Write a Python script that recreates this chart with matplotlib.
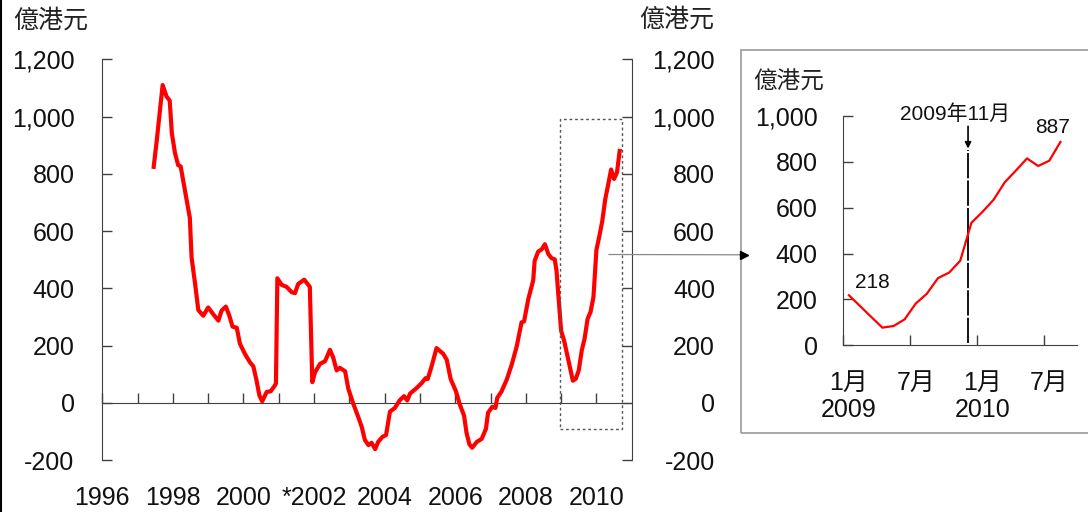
import numpy as np
import matplotlib
matplotlib.use("Agg")
import matplotlib.pyplot as plt
from matplotlib.patches import Rectangle
from matplotlib.lines import Line2D

plt.rcParams['font.family'] = ['Liberation Sans', 'Noto Sans CJK TC', 'DejaVu Sans']

# ---------------- data ----------------
# main series (decimal year, HK$ 100 million), up to end-2008
main_years = [1997.45, 1997.54, 1997.71, 1997.82, 1997.91, 1997.97, 1998.06, 1998.15, 1998.22,
              1998.48, 1998.53, 1998.63, 1998.72, 1998.86, 1999.00, 1999.14, 1999.29, 1999.38,
              1999.50, 1999.60, 1999.69, 1999.81, 1999.90, 2000.04, 2000.18, 2000.28, 2000.37,
              2000.45, 2000.53, 2000.66, 2000.77, 2000.86, 2000.92, 2000.96, 2001.08, 2001.22,
              2001.37, 2001.46, 2001.55, 2001.72, 2001.88, 2001.95, 2002.03, 2002.17, 2002.31,
              2002.45, 2002.54, 2002.64, 2002.73, 2002.88, 2002.97, 2003.11, 2003.25, 2003.35,
              2003.44, 2003.54, 2003.63, 2003.73, 2003.82, 2003.94, 2004.04, 2004.15, 2004.29,
              2004.43, 2004.55, 2004.64, 2004.72, 2004.91, 2005.05, 2005.16, 2005.22, 2005.33,
              2005.47, 2005.66, 2005.76, 2005.87, 2006.02, 2006.13, 2006.25, 2006.32, 2006.40,
              2006.48, 2006.61, 2006.75, 2006.87, 2006.93, 2007.05, 2007.14, 2007.19, 2007.31,
              2007.46, 2007.60, 2007.74, 2007.88, 2007.95, 2008.07, 2008.21, 2008.25, 2008.35,
              2008.45, 2008.54, 2008.64, 2008.73, 2008.82, 2008.87, 2008.92, 2009.00]
main_vals = [817, 913, 1110, 1070, 1056, 942, 872, 830, 826,
             646, 507, 415, 324, 304, 333, 310, 287, 322,
             336, 304, 266, 262, 206, 171, 142, 127, 78,
             26, 5, 38, 40, 55, 67, 435, 412, 405,
             386, 383, 415, 430, 405, 72, 107, 136, 145,
             185, 159, 113, 122, 110, 49, -3, -49, -84,
             -130, -148, -140, -162, -136, -119, -113, -31, -18,
             9, 23, 8, 32, 52, 69, 86, 83, 127,
             191, 171, 150, 83, 40, -6, -45, -105, -145,
             -157, -137, -126, -91, -35, -14, -18, 17, 39,
             81, 133, 196, 281, 284, 362, 428, 496, 528,
             536, 554, 519, 505, 501, 461, 380, 252]

# monthly values Jan 2009 - Aug 2010 (inset)
inset_vals = [218, 171, 124, 77, 84, 113, 182, 225, 293, 317, 369, 534,
              582, 635, 711, 762, 815, 782, 805, 887]
inset_ticklabels = ['1月\n2009', '7月', '1月\n2010', '7月']
inset_tickpos = [0, 6, 12, 18]

year_ticks = list(range(1996, 2011))
year_labels = ['1996', '', '1998', '', '2000', '', '*2002', '', '2004', '', '2006', '', '2008', '', '2010']
y_ticks = [-200, 0, 200, 400, 600, 800, 1000, 1200]
inset_y_ticks = [0, 200, 400, 600, 800, 1000]
unit = '億港元'
marker_label = '2009年11月'

# ---------------- figure ----------------
W, H = 1088, 512
fig = plt.figure(figsize=(W / 100, H / 100), dpi=100)
fig.patch.set_facecolor('white')

def fx(px):
    return px / W

def fy(py):
    return 1 - py / H

SP = '#404040'
TXT = '#111111'
FS = 18
FS_ANN = 15

# main axes
x0, x1, ytop, ybot = 102.3, 631.7, 59.3, 460.0
ax = fig.add_axes([fx(x0), fy(ybot), fx(x1 - x0), (ybot - ytop) / H])
ax.set_xlim(1996, 2011)
ax.set_ylim(-200, 1200)

inset_x = 2009 + (np.arange(len(inset_vals)) + 1) / 12.0
xs = np.concatenate([main_years, inset_x])
ys = np.concatenate([main_vals, inset_vals])
ax.plot(xs, ys, color='#ff0000', lw=3.0, solid_joinstyle='round', solid_capstyle='butt', zorder=3)

ax.spines['top'].set_visible(False)
ax.spines['bottom'].set_position(('data', 0))
ax.spines['bottom'].set_color(SP)
ax.spines['left'].set_color(SP)
ax.spines['right'].set_visible(False)
ax.set_xticks(year_ticks)
ax.set_xticklabels(year_labels)
ax.set_yticks(y_ticks)
ax.set_yticklabels([f'{v:,}' for v in y_ticks])
ax.tick_params(axis='x', direction='in', length=7, width=1, color=SP, pad=60, labelsize=FS, labelcolor=TXT)
ax.tick_params(axis='y', direction='in', length=7, width=1, color=SP, pad=20, labelsize=FS, labelcolor=TXT)

ax2 = ax.twinx()
ax2.set_ylim(-200, 1200)
ax2.set_yticks(y_ticks)
ax2.set_yticklabels([f'{v:,}' for v in y_ticks])
for s in ['top', 'bottom', 'left']:
    ax2.spines[s].set_visible(False)
ax2.spines['right'].set_color(SP)
ax2.tick_params(axis='y', direction='in', length=7, width=1, color=SP, pad=60, labelsize=FS, labelcolor=TXT)
for lab in ax2.get_yticklabels():
    lab.set_horizontalalignment('right')

# dotted zoom rectangle
ax.add_patch(Rectangle((2008.97, -90), 2010.73 - 2008.97, 990 + 90, fill=False,
                       edgecolor='#555555', lw=1.0, linestyle=(0, (2, 2)), zorder=4, clip_on=False))

# unit labels
fig.text(fx(13), fy(21), unit, ha='left', va='center', fontsize=18, color='#222222')
fig.text(fx(714), fy(20), unit, ha='right', va='center', fontsize=18, color='#222222')

# left border line of the image
fig.add_artist(Line2D([fx(1), fx(1)], [0, 1], color='black', lw=1.5))

# inset frame
fig.add_artist(Rectangle((fx(741), fy(433)), fx(1100 - 741), (433 - 50) / H, transform=fig.transFigure,
                         fill=False, edgecolor='#999999', lw=1.2))

# connector arrow
fig.add_artist(Line2D([fx(609), fx(744)], [fy(254.5), fy(254.8)], color='#888888', lw=0.9))
fig.add_artist(Line2D([fx(744)], [fy(254.8)], marker='>', markersize=6, color='black', lw=0))

# inset axes
ix0, ix1, iytop, iybot = 843.4, 1077.1, 116.0, 345.3
iax = fig.add_axes([fx(ix0), fy(iybot), fx(ix1 - ix0), (iybot - iytop) / H])
iax.set_xlim(-0.5, 20.5)
iax.set_ylim(0, 1000)
iax.patch.set_alpha(0)
iax.plot(np.arange(len(inset_vals)), inset_vals, color='#ff0000', lw=1.6, zorder=3)
for s in ['top', 'right']:
    iax.spines[s].set_visible(False)
iax.spines['left'].set_color(SP)
iax.spines['bottom'].set_color(SP)
iax.set_yticks(inset_y_ticks)
iax.set_yticklabels([f'{v:,}' for v in inset_y_ticks])
iax.set_xticks([p - 0.5 for p in inset_tickpos])
iax.set_xticklabels([])
iax.tick_params(axis='y', direction='in', length=7, width=1, color=SP, pad=18.5, labelsize=FS, labelcolor=TXT)
iax.tick_params(axis='x', direction='in', length=7, width=1, color=SP)
for p, lab in zip(inset_tickpos, inset_ticklabels):
    iax.text(p, -0.11, lab, transform=iax.get_xaxis_transform(), ha='center', va='top',
             fontsize=FS, color=TXT, linespacing=1.2)

# 2009 Nov marker
iax.plot([10.7, 10.7], [10, 852], color='black', lw=1.3, linestyle=(0, (14, 1.2)), zorder=2)
iax.annotate('', xy=(10.7, 858), xytext=(10.7, 955),
             arrowprops=dict(arrowstyle='-|>', color='black', lw=1.2, mutation_scale=9,
                             shrinkA=0, shrinkB=0), annotation_clip=False)
iax.text(9.55, 1010, marker_label, ha='center', va='center', fontsize=FS_ANN, color=TXT)
iax.text(2.13, 272, f'{inset_vals[0]}', ha='center', va='center', fontsize=FS_ANN, color=TXT)
iax.text(18.3, 948, f'{inset_vals[-1]}', ha='center', va='center', fontsize=FS_ANN, color=TXT)
fig.text(fx(753), fy(83), unit, ha='left', va='center', fontsize=17, color='#222222')

fig.savefig('out.png', dpi=100, facecolor='white')
